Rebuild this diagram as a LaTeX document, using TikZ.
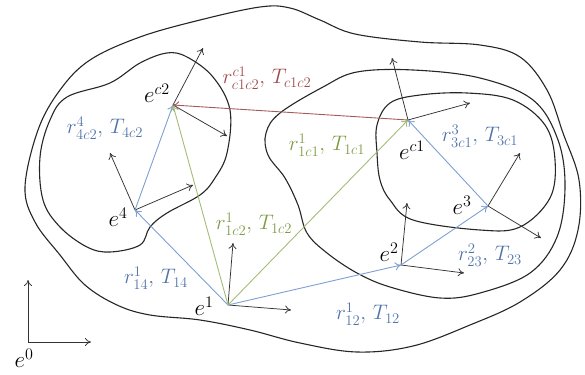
\documentclass[tikz,border=0pt]{standalone}
\usepackage{fix-cm}
\usetikzlibrary{arrows.meta}
\definecolor{bl}{RGB}{125,160,210}
\definecolor{blt}{RGB}{80,115,170}
\definecolor{gr}{RGB}{165,188,120}
\definecolor{grt}{RGB}{125,155,70}
\definecolor{rd}{RGB}{165,90,90}
\definecolor{rdt}{RGB}{160,75,75}
\begin{document}
\begin{tikzpicture}[x=1pt,y=-1pt,
  ax/.style={-{To[length=6pt,width=8pt]}, line width=0.75pt, black!80},
  bvec/.style={-{To[length=6pt,width=8pt]}, line width=0.9pt, bl},
  gvec/.style={-{To[length=6pt,width=8pt]}, line width=0.9pt, gr},
  rvec/.style={-{To[length=6pt,width=8pt]}, line width=0.9pt, rd},
  lab/.style={font=\fontsize{21}{24}\selectfont, inner sep=0pt},
  elab/.style={font=\fontsize{23}{26}\selectfont, inner sep=0pt, black}
]
\useasboundingbox (0,0) rectangle (585,374);

% region boundaries
\draw[line width=1.1pt, black!85] plot[smooth cycle, tension=0.6] coordinates {
  (25,187) (38,130) (60,90) (90,60) (140,37) (200,20) (260,7) (290,8) (320,20)
  (355,34) (420,42) (480,45) (520,57) (547,90) (563,133) (579,180) (578,230)
  (560,270) (520,302) (470,325) (413,346) (357,352) (300,343) (250,330)
  (200,320) (150,315) (117,305) (85,285) (60,255) (35,222)};
\draw[line width=1.1pt, black!85] plot[smooth cycle, tension=0.6] coordinates {
  (280,113) (323,87) (357,72) (413,70) (480,78) (533,100) (558,140) (565,187)
  (557,237) (530,273) (480,293) (440,298) (390,287) (357,273) (327,253)
  (307,233) (298,205) (285,178) (268,155) (266,133)};
\draw[line width=1.1pt, black!85] plot[smooth cycle, tension=0.6] coordinates {
  (377,125) (390,103) (420,95) (467,93) (513,100) (545,125) (555,160)
  (550,198) (520,227) (480,230) (413,220) (390,200) (380,180) (377,153)};
\draw[line width=1.1pt, black!85] plot[smooth cycle, tension=0.6] coordinates {
  (40,157) (50,120) (67,97) (110,83) (140,63) (167,53) (187,57) (213,77)
  (230,110) (227,153) (215,178) (200,195) (167,213) (150,227) (140,245)
  (110,252) (87,247) (60,227) (43,200)};

% frame origins
\coordinate (e0) at (28,342);
\coordinate (e1) at (228,305);
\coordinate (e2) at (401,265);
\coordinate (e3) at (488,206);
\coordinate (e4) at (135,210);
\coordinate (ec1) at (408,120);
\coordinate (ec2) at (173,105);

% axis tips
\coordinate (e0a) at (28,280);   \coordinate (e0b) at (91,342);
\coordinate (e1a) at (233,243);  \coordinate (e1b) at (291,310);
\coordinate (e2a) at (407,203);  \coordinate (e2b) at (464,273);
\coordinate (e3a) at (520,153);  \coordinate (e3b) at (541,238);
\coordinate (e4a) at (110,153);  \coordinate (e4b) at (193,185);
\coordinate (ec1a) at (392,58);  \coordinate (ec1b) at (470,103);
\coordinate (ec2a) at (203,48);  \coordinate (ec2b) at (227,136);

\foreach \f in {e0,e1,e2,e3,e4,ec1,ec2}{
  \draw[ax] (\f) -- (\f a);
  \draw[ax] (\f) -- (\f b);
}

% relative vectors
\draw[bvec] (e1) -- (e4);
\draw[bvec] (e1) -- (e2);
\draw[bvec] (e2) -- (e3);
\draw[bvec] (e3) -- (ec1);
\draw[bvec] (e4) -- (ec2);
\draw[gvec] (e1) -- (ec2);
\draw[gvec] (e1) -- (ec1);
\draw[rvec] (ec1) -- (ec2);

% frame labels
\node[elab] (le0) at (24,358) {$e^{0}$};
\node[elab] (le1) at (204,306) {$e^{1}$};
\node[elab] (le2) at (389,252) {$e^{2}$};
\node[elab] (le3) at (462,205) {$e^{3}$};
\node[elab] (le4) at (118,217) {$e^{4}$};
\node[elab] (lec1) at (412,150) {$e^{c1}$};
\node[elab] (lec2) at (157,93) {$e^{c2}$};

% vector labels
\node[lab, text=rdt] (lc1c2) at (267,78) {$r^{c1}_{c1c2},\,T_{c1c2}$};
\node[lab, text=blt] (l4c2) at (105,128) {$r^{4}_{4c2},\,T_{4c2}$};
\node[lab, text=grt] (l1c1) at (327,145) {$r^{1}_{1c1},\,T_{1c1}$};
\node[lab, text=blt] (l3c1) at (480,136) {$r^{3}_{3c1},\,T_{3c1}$};
\node[lab, text=grt] (l1c2) at (254,224) {$r^{1}_{1c2},\,T_{1c2}$};
\node[lab, text=blt] (l14) at (156,278) {$r^{1}_{14},\,T_{14}$};
\node[lab, text=blt] (l12) at (368,314) {$r^{1}_{12},\,T_{12}$};
\node[lab, text=blt] (l23) at (490,255) {$r^{2}_{23},\,T_{23}$};
\end{tikzpicture}
\end{document}
